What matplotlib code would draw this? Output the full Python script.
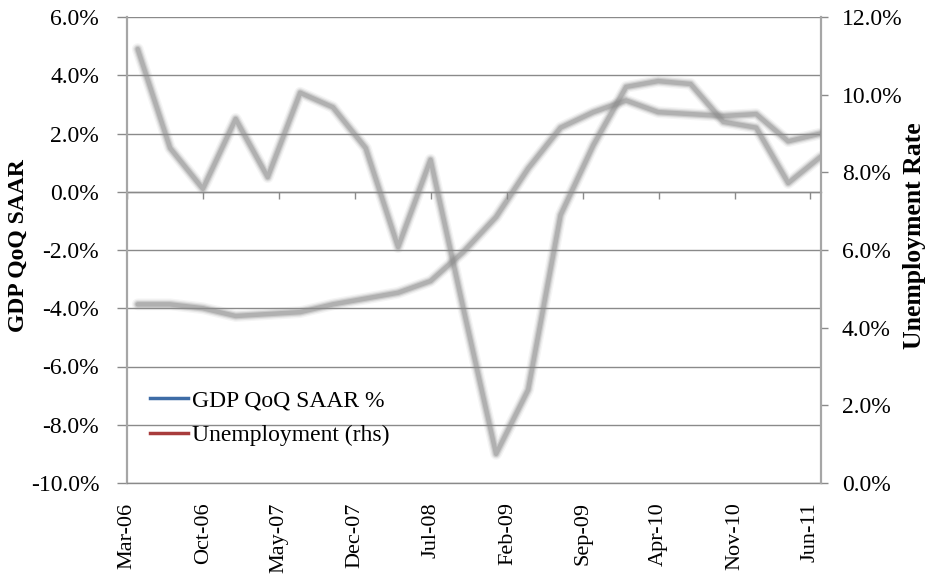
import matplotlib
matplotlib.use("Agg")
import matplotlib.pyplot as plt
import matplotlib.dates as mdates
from matplotlib.lines import Line2D
from matplotlib.ticker import FuncFormatter, MultipleLocator
import pandas as pd

# quarterly observations, plotted at quarter end
quarters = pd.date_range("2006-03-31", periods=22, freq="QE")
gdp_qoq_saar = [4.9, 1.5, 0.1, 2.5, 0.5, 3.4, 2.9, 1.5, -1.9, 1.1, -4.0,
                -9.0, -6.8, -0.8, 1.6, 3.6, 3.8, 3.7, 2.4, 2.2, 0.3, 1.2]
unemployment = [4.6, 4.6, 4.5, 4.3, 4.35, 4.4, 4.6, 4.75, 4.9, 5.2, 5.95,
                6.85, 8.1, 9.15, 9.55, 9.85, 9.55, 9.5, 9.45, 9.5, 8.8, 9.0]
series_labels = ["GDP QoQ SAAR %", "Unemployment (rhs)"]
legend_colors = ["#3e6ca6", "#a83c3c"]

x_start, x_end = pd.Timestamp("2006-03-01"), pd.Timestamp("2011-07-01")
x_ticks = pd.date_range("2006-03-01", "2011-06-01", freq="7MS")

SERIF = ["Liberation Serif", "DejaVu Serif"]
GRID = "#8a8a8a"
SPINE = "#a6a6a6"
LINE = "#8c8c8c"

plt.rcParams["font.family"] = SERIF

fig = plt.figure(figsize=(9.3, 5.82), dpi=100)
ax = fig.add_axes([127 / 930, 1 - 483 / 582, 694 / 930, 466 / 582])
ax2 = ax.twinx()


def soft_line(axis, x, y):
    # grey, slightly blurred look of the original (layered strokes)
    for lw, a in ((8.5, 0.09), (6.5, 0.16), (4.8, 0.28), (3.2, 0.42)):
        axis.plot(x, y, color=LINE, lw=lw, alpha=a, solid_joinstyle="round",
                  solid_capstyle="round", zorder=3)


soft_line(ax, quarters, gdp_qoq_saar)
soft_line(ax2, quarters, unemployment)

pct = FuncFormatter(lambda v, _: f"{v:.1f}%")

ax.set_xlim(x_start, x_end)
ax.set_ylim(-10, 6)
ax.yaxis.set_major_locator(MultipleLocator(2))
ax.yaxis.set_major_formatter(pct)
ax.grid(axis="y", color=GRID, lw=1.0, zorder=0)
ax.set_axisbelow(True)
ax.tick_params(axis="y", direction="out", length=7, width=1.0, color=GRID,
               pad=13, labelsize=17)

ax.set_xticks(x_ticks)
ax.xaxis.set_major_formatter(mdates.DateFormatter("%b-%y"))
ax.tick_params(axis="x", length=0, pad=14, labelsize=16, labelrotation=90)

ax2.set_ylim(0, 12)
ax2.yaxis.set_major_locator(MultipleLocator(2))
ax2.yaxis.set_major_formatter(pct)
ax2.tick_params(axis="y", direction="out", length=5, width=1.0, color=GRID,
                pad=10, labelsize=17)

for side in ("top", "right"):
    ax.spines[side].set_visible(False)
ax.spines["bottom"].set_color(GRID)
ax.spines["bottom"].set_linewidth(1.0)
ax.spines["left"].set_color(SPINE)
ax.spines["left"].set_linewidth(1.6)
for side in ("top", "bottom", "left"):
    ax2.spines[side].set_visible(False)
ax2.spines["right"].set_color(SPINE)
ax2.spines["right"].set_linewidth(1.6)

# category axis crosses at 0% with small downward ticks
zero_frac = (0 - ax.get_ylim()[0]) / (ax.get_ylim()[1] - ax.get_ylim()[0])
sec = ax.secondary_xaxis(zero_frac)
sec.set_alignment("bottom")
sec.set_xticks(mdates.date2num(x_ticks))
sec.tick_params(axis="x", direction="out", length=5, width=1.0, color=GRID,
                labelbottom=False, labeltop=False)
sec.spines["bottom"].set_color(GRID)
sec.spines["bottom"].set_linewidth(1.0)

ax.set_ylabel("GDP QoQ SAAR", fontsize=17, fontweight="bold")
ax.yaxis.set_label_coords(-0.157, 0.51)
ax.yaxis.label.set_va("center")
ax2.set_ylabel("Unemployment Rate", fontsize=18.5, fontweight="bold",
               rotation=90)
ax2.yaxis.set_label_coords(1.135, 0.53)
ax2.yaxis.label.set_va("center")

handles = [Line2D([], [], color=c, lw=2.5) for c in legend_colors]
ax.legend(handles, series_labels, loc="upper left",
          bbox_to_anchor=(0.033, 0.2), frameon=False, fontsize=17,
          handlelength=1.6, handletextpad=0.2, labelspacing=0.55,
          borderpad=0, borderaxespad=0)

fig.savefig("out.png", dpi=100)
